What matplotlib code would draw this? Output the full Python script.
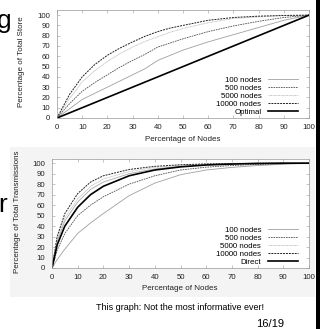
import matplotlib
matplotlib.use("Agg")
import matplotlib.pyplot as plt
from matplotlib.patches import Rectangle

plt.rcParams['font.family'] = ['Liberation Sans', 'DejaVu Sans']

# ── top plot: store distribution ──
store_x = [0, 5, 10, 15, 20, 25, 30, 35, 40, 45, 50, 60, 70, 80, 90, 100]
store_100 = [0, 9, 18, 24, 30, 36, 42, 48, 56, 61, 66, 74, 81, 88, 95, 100]
store_500 = [0, 14, 26, 34.5, 42, 49.5, 56, 62, 69, 73, 77, 84, 89.5, 94, 97.7, 100]
store_5000 = [0, 19, 35, 46, 55, 62.5, 69, 74.5, 79, 83.5, 87, 92.6, 96.8, 98.3, 99.5, 100]
store_10000 = [0, 23, 40, 52, 61, 68, 74, 79.5, 84, 87.5, 90, 95, 97.7, 99, 99.7, 100]
optimal_x = [0, 100]
optimal_y = [0, 100]

# ── bottom plot: transmissions ──
trans_x = [0, 2, 5, 10, 15, 20, 30, 40, 50, 60, 70, 80, 90, 100]
trans_100 = [0, 8, 18, 33, 43, 52, 69, 81, 89, 93.5, 96, 97.8, 99, 100]
trans_500 = [0, 17, 33, 50, 60, 68, 80, 88, 93.5, 96.2, 97.8, 98.8, 99.5, 100]
trans_direct = [0, 22, 40, 58, 70, 78, 88, 93.5, 96.5, 98.3, 99.2, 99.7, 100, 100]
trans_extra = [0, 25, 45, 63, 75, 82, 90, 94.5, 97, 98.5, 99.3, 99.7, 100, 100]
trans_5000 = [0, 27, 48, 66, 78, 85, 92, 96, 98, 99, 99.5, 99.8, 100, 100]
trans_10000 = [0, 30, 52, 71, 82, 88, 94, 97, 98.5, 99.3, 99.7, 100, 100, 100]

x_ticks = list(range(0, 101, 10))
y_ticks = list(range(0, 101, 10))

TICK_FS = 5.6
LEG_FS = 5.7
LABEL_FS = 5.8


def style_axes(ax, ytop):
    ax.set_xlim(0, 100)
    ax.set_ylim(0, ytop)
    ax.set_xticks(x_ticks)
    ax.set_yticks(y_ticks)
    ax.tick_params(direction="in", length=2.2, width=0.4, color="#999999",
                   top=True, right=True, labelsize=TICK_FS, labelcolor="#222222")
    ax.tick_params(axis="x", pad=4)
    ax.tick_params(axis="y", pad=5)
    for s in ax.spines.values():
        s.set_color("#999999")
        s.set_linewidth(0.5)


def add_legend(ax):
    ax.legend(loc="lower right", markerfirst=False, frameon=False, fontsize=LEG_FS,
              handlelength=3.8, handletextpad=0.8, labelspacing=0.05,
              borderpad=0.1, borderaxespad=0.2, bbox_to_anchor=(0.965, 0.0))


fig = plt.figure(figsize=(3.2, 3.29), dpi=100)

# light panel behind the lower graph
fig.patches.append(Rectangle((10 / 320, 1 - 297 / 329), 305 / 320, 150 / 329,
                             transform=fig.transFigure, facecolor="#f4f4f4",
                             edgecolor="none", zorder=-1))

ax1 = fig.add_axes([57 / 320, 1 - 118 / 329, 252 / 320, 108 / 329])
ax1.plot(store_x, store_100, color="#a0a0a0", lw=0.6, label="100 nodes")
ax1.plot(store_x, store_500, color="#505050", lw=0.6, dashes=(2, 1), label="500 nodes")
ax1.plot(store_x, store_5000, color="#b8b8b8", lw=0.6, dashes=(1, 0.6), label="5000 nodes")
ax1.plot(store_x, store_10000, color="#202020", lw=0.7, dashes=(2, 1), label="10000 nodes")
ax1.plot(optimal_x, optimal_y, color="black", lw=1.2, label="Optimal")
style_axes(ax1, 105)
add_legend(ax1)

ax2 = fig.add_axes([52 / 320, 1 - 268 / 329, 257 / 320, 109 / 329])
ax2.set_facecolor("white")
ax2.plot(trans_x, trans_100, color="#a0a0a0", lw=0.6, label="100 nodes")
ax2.plot(trans_x, trans_500, color="#505050", lw=0.6, dashes=(2, 1), label="500 nodes")
ax2.plot(trans_x, trans_5000, color="#b8b8b8", lw=0.6, dashes=(1, 0.6), label="5000 nodes")
ax2.plot(trans_x, trans_10000, color="#202020", lw=0.7, dashes=(2, 1), label="10000 nodes")
ax2.plot(trans_x, trans_extra, color="#a8a8a8", lw=0.6)
ax2.plot(trans_x, trans_direct, color="black", lw=1.2, label="Direct")
style_axes(ax2, 104)
add_legend(ax2)

# axis titles
fig.text(183 / 320, 1 - 140 / 329, "Percentage of Nodes", ha="center", va="center",
         fontsize=LABEL_FS, color="#222222")
fig.text(22 / 320, 1 - 62 / 329, "Percentage of Total Store", ha="center", va="center",
         rotation=90, fontsize=LABEL_FS, color="#222222")
fig.text(180 / 320, 1 - 289 / 329, "Percentage of Nodes", ha="center", va="center",
         fontsize=LABEL_FS, color="#222222")
fig.text(18 / 320, 1 - 212 / 329, "Percentage of Total Transmissions", ha="center",
         va="center", rotation=90, fontsize=LABEL_FS, color="#222222")

# slide pieces
fig.text(180 / 320, 1 - 308 / 329, "This graph: Not the most informative ever!",
         ha="center", va="center", fontsize=6.5, color="black")
fig.text(270 / 320, 1 - 324 / 329, "16/19", ha="center", va="center",
         fontsize=8, color="black")
fig.text(12 / 320, 1 - 28 / 329, "g", ha="right", va="baseline", fontsize=19,
         color="black")
fig.text(7 / 320, 1 - 212 / 329, "r", ha="right", va="baseline", fontsize=19,
         color="black")
fig.patches.append(Rectangle((316 / 320, 0), 4 / 320, 1, transform=fig.transFigure,
                             facecolor="black", edgecolor="none", zorder=5))

fig.savefig("out.png", dpi=100)
